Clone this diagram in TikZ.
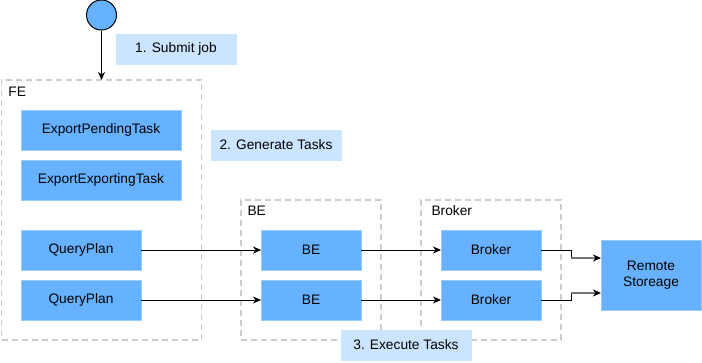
\documentclass[tikz,border=0pt]{standalone}
\usepackage{fontspec}
\setmainfont{Liberation Sans}
\usetikzlibrary{positioning, arrows.meta}

\definecolor{taskblue}{HTML}{66B2FF}
\definecolor{taskedge}{HTML}{99CCFF}
\definecolor{stepnote}{HTML}{CCE5FF}
\definecolor{groupline}{HTML}{CCCCCC}

\begin{document}
\begin{tikzpicture}[x=1pt, y=-1pt, font=\fontsize{13.75}{16}\selectfont, line width=1pt,
    task/.style={rectangle, fill=taskblue, draw=taskedge, line width=0.8pt, minimum height=40pt, inner sep=0pt, outer sep=0pt},
    note/.style={rectangle, fill=stepnote, draw=stepnote, minimum height=30pt, inner sep=0pt},
    group/.style={rectangle, draw=groupline, dash pattern=on 6pt off 4pt, line width=1.5pt, anchor=north west, outer sep=0pt},
    flow/.style={-{Stealth[length=8pt, width=7pt, inset=2.5pt]}},
    tail/.style={draw=black!55, line width=1.4pt, -{Stealth[black, length=8pt, width=7pt, inset=2.5pt]}}]
            \useasboundingbox (0,0) rectangle (702,362);

            % --- Groups ---
            \node[group, minimum width=200pt, minimum height=260pt] (fe) at (1.5,80) {};
            \node[group, minimum width=140pt, minimum height=140pt] (begroup) at (241,200) {};
            \node[group, minimum width=140pt, minimum height=140pt] (brkgroup) at (421,200) {};
            \node[anchor=west, inner sep=0pt] (felabel) at (8,92) {FE};
            \node[anchor=west, inner sep=0pt] (belabel) at (247,211) {BE};
            \node[anchor=west, inner sep=0pt] (brklabel) at (431,211) {Broker};

            % --- Nodes Placement ---
            \node[circle, fill=taskblue, draw, minimum size=30pt, inner sep=0pt] (start) at (101.5,15) {};
            \node[task, minimum width=160pt] (pending) at (101,130) {ExportPendingTask};
            \node[task, minimum width=160pt, below=10pt of pending] (exporting) {ExportExportingTask};
            \node[task, minimum width=120pt] (plan1) at (81,250) {QueryPlan};
            \node[task, minimum width=120pt, below=10pt of plan1] (plan2) {QueryPlan};
            \node[task, minimum width=100pt] (be1) at (311,250) {BE};
            \node[task, minimum width=100pt, below=10pt of be1] (be2) {BE};
            \node[task, minimum width=100pt, right=80pt of be1] (brk1) {Broker};
            \node[task, minimum width=100pt, below=10pt of brk1] (brk2) {Broker};
            \node[task, minimum width=100pt, minimum height=70pt, align=center] (remote) at (651,275) {Remote\\Storeage};

            % --- Step notes ---
            \node[note, minimum width=120pt] (submit) at (176,49) {1. Submit job};
            \node[note, minimum width=130pt] (generate) at (276,145) {2. Generate Tasks};
            \node[note, minimum width=130pt] (execute) at (406,345) {3. Execute Tasks};

            % --- Connections ---
            \draw[flow] (start) -- (fe.north);
            \draw[flow] (plan1) -- (be1);
            \draw[flow] (plan2) -- (be2);
            \draw[flow] (be1) -- (brk1);
            \draw[flow] (be2) -- (brk2);

            \coordinate (bend1) at (571,258);
            \coordinate (bend2) at (571,293);
            \draw (brk1.east) -| (bend1);
            \draw (brk2.east) -| (bend2);
            \draw[tail] (bend1) -- (bend1 -| remote.west);
            \draw[tail] (bend2) -- (bend2 -| remote.west);
        \end{tikzpicture}
\end{document}
